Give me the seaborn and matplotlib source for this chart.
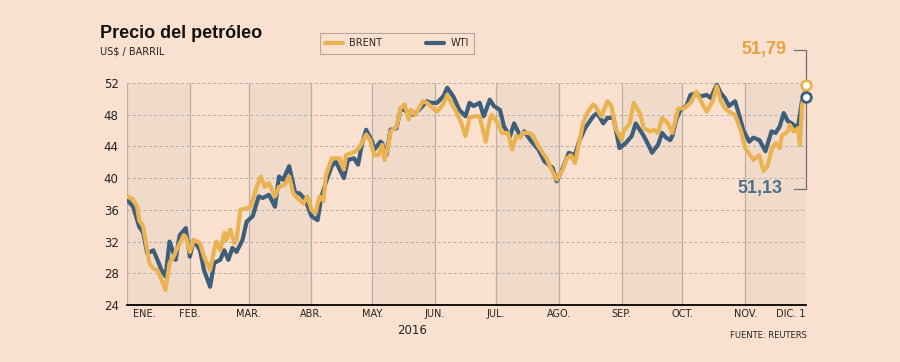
import matplotlib
matplotlib.use('Agg')
import pandas as pd
import seaborn as sns
import matplotlib.pyplot as plt
import matplotlib.transforms as mtransforms
from matplotlib.lines import Line2D

# precios diarios aproximados (US$/barril), 2016
brent_dates = ['2016-01-01', '2016-01-04', '2016-01-06', '2016-01-07', '2016-01-09', '2016-01-11', '2016-01-12',
               '2016-01-14', '2016-01-16', '2016-01-18', '2016-01-20', '2016-01-22', '2016-01-24', '2016-01-25',
               '2016-01-29', '2016-01-30', '2016-02-01', '2016-02-03', '2016-02-06', '2016-02-08', '2016-02-11',
               '2016-02-13', '2016-02-14', '2016-02-16', '2016-02-18', '2016-02-19', '2016-02-21', '2016-02-23',
               '2016-02-24', '2016-02-26', '2016-02-29', '2016-03-02', '2016-03-05', '2016-03-07', '2016-03-09',
               '2016-03-11', '2016-03-14', '2016-03-16', '2016-03-19', '2016-03-21', '2016-03-23', '2016-03-25',
               '2016-03-28', '2016-03-30', '2016-04-01', '2016-04-03', '2016-04-05', '2016-04-07', '2016-04-08',
               '2016-04-11', '2016-04-13', '2016-04-15', '2016-04-17', '2016-04-18', '2016-04-21', '2016-04-23',
               '2016-04-25', '2016-04-28', '2016-04-30', '2016-05-02', '2016-05-04', '2016-05-06', '2016-05-07',
               '2016-05-09', '2016-05-10', '2016-05-13', '2016-05-15', '2016-05-17', '2016-05-19', '2016-05-20',
               '2016-05-22', '2016-05-24', '2016-05-26', '2016-05-28', '2016-05-31', '2016-06-02', '2016-06-05',
               '2016-06-07', '2016-06-09', '2016-06-11', '2016-06-14', '2016-06-16', '2016-06-18', '2016-06-20',
               '2016-06-23', '2016-06-26', '2016-06-28', '2016-06-29', '2016-07-02', '2016-07-04', '2016-07-07',
               '2016-07-09', '2016-07-11', '2016-07-13', '2016-07-14', '2016-07-17', '2016-07-19', '2016-07-22',
               '2016-07-26', '2016-07-28', '2016-07-31', '2016-08-03', '2016-08-05', '2016-08-07', '2016-08-09',
               '2016-08-11', '2016-08-13', '2016-08-15', '2016-08-18', '2016-08-19', '2016-08-22', '2016-08-23',
               '2016-08-25', '2016-08-27', '2016-08-29', '2016-09-01', '2016-09-02', '2016-09-05', '2016-09-07',
               '2016-09-10', '2016-09-12', '2016-09-15', '2016-09-17', '2016-09-19', '2016-09-21', '2016-09-24',
               '2016-09-26', '2016-09-29', '2016-10-02', '2016-10-05', '2016-10-08', '2016-10-11', '2016-10-13',
               '2016-10-16', '2016-10-18', '2016-10-20', '2016-10-22', '2016-10-25', '2016-10-27', '2016-10-30',
               '2016-11-01', '2016-11-04', '2016-11-05', '2016-11-08', '2016-11-10', '2016-11-12', '2016-11-14',
               '2016-11-16', '2016-11-18', '2016-11-19', '2016-11-22', '2016-11-23', '2016-11-25', '2016-11-27',
               '2016-11-28', '2016-11-29', '2016-12-01']
brent = [37.7, 37.3, 36.4, 34.7, 33.9, 30.9, 29.3, 28.6, 28.4, 27.2, 25.9, 29.3, 30.1, 30.7,
         32.8, 32.6, 30.7, 32.2, 31.8, 30.1, 28.4, 30.9, 32.0, 30.9, 33.1, 32.2, 33.5, 31.8,
         32.2, 36.0, 36.2, 36.4, 38.9, 40.2, 38.9, 39.4, 37.7, 38.9, 39.2, 40.2, 38.1, 37.5,
         36.8, 37.7, 36.0, 35.6, 37.7, 37.1, 40.2, 42.5, 42.5, 42.5, 41.1, 42.9, 43.2, 43.4,
         44.0, 45.5, 44.8, 42.9, 42.9, 44.2, 42.3, 44.2, 45.9, 46.5, 48.8, 49.3, 47.4, 48.6,
         48.0, 48.8, 49.7, 49.5, 48.8, 48.4, 49.3, 50.5, 49.5, 48.6, 46.9, 45.3, 47.6, 47.8,
         47.8, 44.6, 47.4, 48.0, 46.9, 45.7, 45.7, 43.6, 45.3, 45.1, 45.7, 45.7, 45.5, 44.0,
         42.5, 41.3, 39.8, 41.1, 42.5, 42.9, 41.9, 44.4, 46.9, 48.2, 49.3, 49.1, 47.8, 48.4,
         49.7, 49.1, 46.3, 44.8, 45.9, 46.9, 49.5, 48.2, 46.3, 45.9, 46.1, 45.7, 47.6, 46.9,
         45.7, 48.8, 48.8, 49.5, 50.9, 49.3, 48.4, 49.7, 51.6, 49.7, 48.8, 48.2, 48.0, 45.9,
         43.8, 42.7, 42.3, 42.9, 40.9, 41.5, 43.6, 44.4, 43.8, 45.3, 45.9, 46.7, 45.9, 46.3,
         44.2, 49.1, 51.79]

wti_dates = ['2016-01-01', '2016-01-04', '2016-01-07', '2016-01-09', '2016-01-11', '2016-01-14', '2016-01-16',
             '2016-01-18', '2016-01-20', '2016-01-22', '2016-01-25', '2016-01-27', '2016-01-30', '2016-02-01',
             '2016-02-03', '2016-02-06', '2016-02-08', '2016-02-11', '2016-02-13', '2016-02-16', '2016-02-18',
             '2016-02-20', '2016-02-22', '2016-02-24', '2016-02-27', '2016-02-29', '2016-03-03', '2016-03-06',
             '2016-03-08', '2016-03-11', '2016-03-14', '2016-03-16', '2016-03-18', '2016-03-21', '2016-03-24',
             '2016-03-26', '2016-03-29', '2016-04-01', '2016-04-04', '2016-04-06', '2016-04-08', '2016-04-11',
             '2016-04-13', '2016-04-17', '2016-04-19', '2016-04-22', '2016-04-24', '2016-04-26', '2016-04-28',
             '2016-05-01', '2016-05-02', '2016-05-05', '2016-05-06', '2016-05-08', '2016-05-10', '2016-05-13',
             '2016-05-15', '2016-05-18', '2016-05-21', '2016-05-24', '2016-05-28', '2016-05-30', '2016-06-02',
             '2016-06-05', '2016-06-07', '2016-06-10', '2016-06-13', '2016-06-16', '2016-06-18', '2016-06-20',
             '2016-06-23', '2016-06-25', '2016-06-28', '2016-06-30', '2016-07-03', '2016-07-05', '2016-07-08',
             '2016-07-10', '2016-07-13', '2016-07-15', '2016-07-18', '2016-07-22', '2016-07-25', '2016-07-29',
             '2016-07-31', '2016-08-03', '2016-08-06', '2016-08-09', '2016-08-11', '2016-08-14', '2016-08-18',
             '2016-08-20', '2016-08-23', '2016-08-25', '2016-08-28', '2016-08-31', '2016-09-03', '2016-09-06',
             '2016-09-08', '2016-09-10', '2016-09-12', '2016-09-15', '2016-09-16', '2016-09-19', '2016-09-21',
             '2016-09-23', '2016-09-25', '2016-09-26', '2016-09-28', '2016-09-30', '2016-10-03', '2016-10-05',
             '2016-10-08', '2016-10-10', '2016-10-13', '2016-10-15', '2016-10-18', '2016-10-20', '2016-10-22',
             '2016-10-24', '2016-10-27', '2016-10-29', '2016-10-31', '2016-11-03', '2016-11-05', '2016-11-08',
             '2016-11-11', '2016-11-14', '2016-11-16', '2016-11-18', '2016-11-20', '2016-11-22', '2016-11-24',
             '2016-11-27', '2016-11-29', '2016-12-01']
wti = [37.3, 36.4, 33.9, 33.1, 30.5, 30.9, 29.7, 28.4, 27.6, 32.0, 29.7, 32.8, 33.7, 30.1,
       32.2, 30.9, 28.4, 26.3, 29.3, 29.7, 30.9, 29.7, 31.2, 30.7, 32.2, 34.5, 35.2, 37.7,
       37.5, 37.9, 36.4, 40.2, 39.8, 41.5, 38.1, 38.1, 37.3, 35.2, 34.7, 37.7, 39.4, 41.5,
       42.1, 40.0, 42.3, 42.5, 41.7, 44.4, 46.1, 44.6, 43.6, 44.6, 44.4, 42.9, 46.1, 46.3,
       48.8, 48.4, 48.0, 48.6, 49.7, 49.5, 49.5, 50.3, 51.4, 50.3, 48.6, 47.8, 49.5, 49.1,
       49.5, 47.8, 49.9, 49.1, 48.6, 46.5, 45.3, 46.9, 45.3, 45.9, 44.8, 43.6, 42.1, 41.3,
       39.6, 41.3, 43.2, 42.9, 44.6, 46.3, 47.8, 48.2, 46.9, 47.6, 47.6, 43.8, 44.4, 45.3,
       46.9, 46.1, 45.3, 43.8, 43.2, 44.2, 45.7, 45.1, 44.8, 45.3, 47.4, 48.6, 49.1, 50.5,
       50.7, 50.3, 50.5, 50.1, 51.8, 50.7, 50.1, 49.1, 49.7, 48.0, 46.1, 44.6, 45.1, 44.8,
       43.4, 45.9, 45.7, 46.5, 48.2, 47.2, 46.9, 46.3, 49.7, 50.2]

month_labels = ['ENE.', 'FEB.', 'MAR.', 'ABR.', 'MAY.', 'JUN.', 'JUL.', 'AGO.', 'SEP.', 'OCT.', 'NOV.', 'DIC. 1']
y_ticks = [24, 28, 32, 36, 40, 44, 48, 52]
brent_label = '51,79'
wti_label = '51,13'

BG = '#fae1cf'
BAND = '#f0dbcb'
GRID = '#bbaea5'
C_BRENT = '#ebb252'
C_WTI = '#3e5f7b'

df = pd.concat([
    pd.DataFrame({'fecha': pd.to_datetime(wti_dates), 'precio': wti, 'serie': 'WTI'}),
    pd.DataFrame({'fecha': pd.to_datetime(brent_dates), 'precio': brent, 'serie': 'BRENT'}),
])

sns.set_style('white')
plt.rcParams['font.family'] = ['DejaVu Sans']

fig = plt.figure(figsize=(9, 3.62), dpi=100, facecolor=BG)
ax = fig.add_axes([127 / 900, 1 - 305 / 362, 679 / 900, 222 / 362])
ax.set_facecolor(BG)

month_starts = pd.date_range('2016-01-01', '2016-12-01', freq='MS')
for i in range(0, 11, 2):
    ax.axvspan(month_starts[i], month_starts[i + 1], color=BAND, lw=0, zorder=0)
for m in month_starts[:-1]:
    ax.axvline(m, color=GRID, lw=0.9, zorder=1)
for y in y_ticks[1:]:
    ax.axhline(y, color=GRID, lw=0.7, ls=(0, (3, 2.5)), zorder=1)

sns.lineplot(data=df, x='fecha', y='precio', hue='serie', hue_order=['WTI', 'BRENT'],
             palette={'BRENT': C_BRENT, 'WTI': C_WTI}, linewidth=3.0, estimator=None,
             sort=False, legend=False, ax=ax, zorder=3)

# marcadores finales
ax.plot(pd.to_datetime(brent_dates[-1]), brent[-1], 'o', ms=7, mfc='white', mec=C_BRENT, mew=2,
        clip_on=False, zorder=5)
ax.plot(pd.to_datetime(wti_dates[-1]), wti[-1], 'o', ms=7, mfc='white', mec=C_WTI, mew=2,
        clip_on=False, zorder=5)

lbl_font = dict(family=['Liberation Sans', 'DejaVu Sans'], fontweight='bold', fontsize=13)
ax.annotate(brent_label, xy=(pd.to_datetime(brent_dates[-1]), brent[-1]), xytext=(-14, 25),
            textcoords='offset points', ha='right', va='center', color='#e8a144',
            arrowprops=dict(arrowstyle='-', color='#6e6e6e', lw=0.9, shrinkA=3, shrinkB=4,
                            connectionstyle='angle,angleA=0,angleB=90,rad=0'), **lbl_font)
ax.annotate(wti_label, xy=(pd.to_datetime(wti_dates[-1]), wti[-1]), xytext=(-17, -66),
            textcoords='offset points', ha='right', va='center', color='#4f6f8b',
            arrowprops=dict(arrowstyle='-', color='#6e6e6e', lw=0.9, shrinkA=6, shrinkB=4,
                            connectionstyle='angle,angleA=0,angleB=90,rad=0'), **lbl_font)

ax.set_xlim(month_starts[0], month_starts[-1])
ax.set_ylim(24, 52)
ax.set_yticks(y_ticks)
ax.set_yticklabels([str(v) for v in y_ticks], fontsize=8.5, color='#222222')
ax.set_xticks(month_starts)
ax.set_xticklabels(month_labels, fontsize=7, color='#222222')
ax.tick_params(axis='both', length=0)
ax.tick_params(axis='y', pad=6)
ax.tick_params(axis='x', pad=3)
ax.set_xlabel('')
ax.set_ylabel('')
ticklabels = ax.get_xticklabels()
ticklabels[0].set_horizontalalignment('left')
ticklabels[0].set_transform(ticklabels[0].get_transform() +
                            mtransforms.ScaledTranslation(0.06, 0, fig.dpi_scale_trans))
ticklabels[-1].set_horizontalalignment('right')
for s in ['top', 'right', 'left']:
    ax.spines[s].set_visible(False)
ax.spines['bottom'].set_color('black')
ax.spines['bottom'].set_linewidth(1.3)
ax.spines['bottom'].set_zorder(4)

fig.text(100 / 900, 1 - 33 / 362, 'Precio del petróleo', fontsize=13, fontweight='bold',
         family=['Liberation Sans', 'DejaVu Sans'], ha='left', va='center', color='#111111')
fig.text(100 / 900, 1 - 52 / 362, 'US$ / BARRIL', fontsize=7, ha='left', va='center', color='#222222')
fig.text(412 / 900, 1 - 330 / 362, '2016', fontsize=8.5, ha='center', va='center', color='#222222')
fig.text(807 / 900, 1 - 336 / 362, 'FUENTE: REUTERS', fontsize=6, ha='right', va='center',
         color='#222222')

handles = [Line2D([], [], color=C_BRENT, lw=3.0), Line2D([], [], color=C_WTI, lw=3.0)]
leg = fig.legend(handles, ['BRENT', 'WTI'], ncol=2, loc='center', bbox_to_anchor=(397 / 900, 1 - 43.5 / 362),
                 frameon=True, fancybox=False, fontsize=7, handlelength=1.8, columnspacing=4.5,
                 handletextpad=0.7, borderpad=0.55)
leg.get_frame().set_facecolor(BG)
leg.get_frame().set_edgecolor('#a59a92')
leg.get_frame().set_linewidth(0.8)

fig.savefig('out.png', dpi=100, facecolor=BG)
